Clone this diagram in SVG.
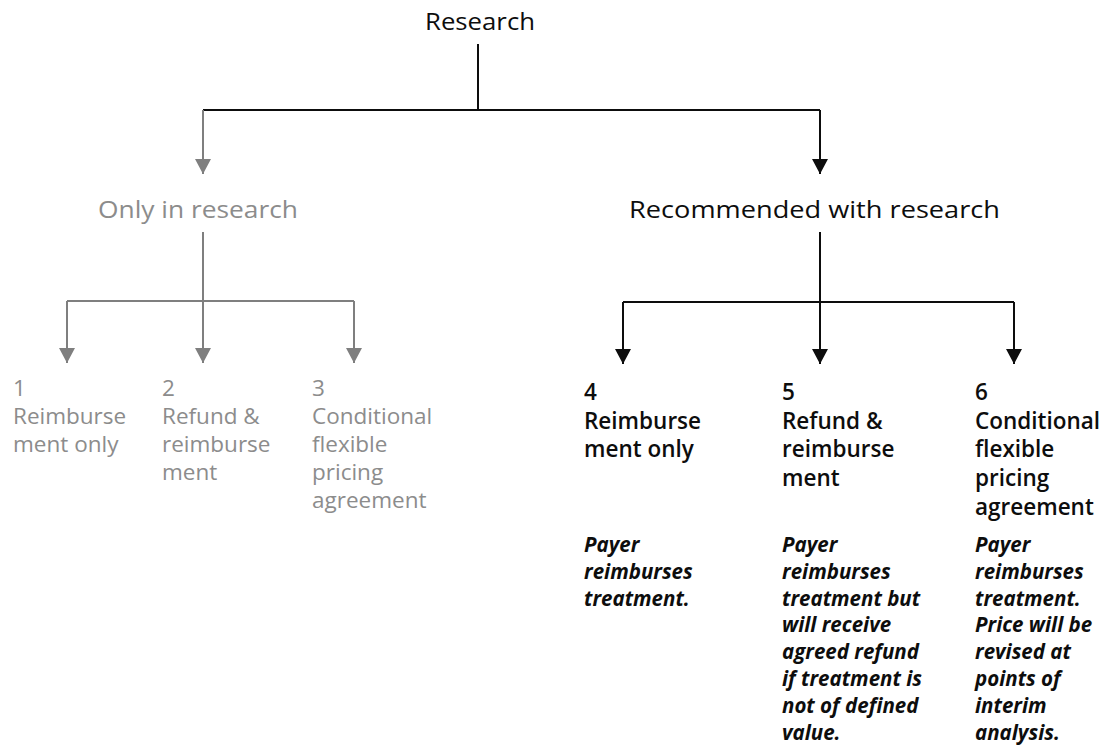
<svg xmlns="http://www.w3.org/2000/svg" width="1105" height="749" viewBox="0 0 1105 749">
<style>
text{font-family:"Open Sans","Liberation Sans",sans-serif;}
.h{font-size:24px;fill:#0d0d0d;}
.hg{font-size:24px;fill:#8c8c8c;}
.g{font-size:22.5px;fill:#8c8c8c;}
.b{font-size:22.5px;fill:#0d0d0d;font-weight:600;}
.d{font-size:20.5px;fill:#0d0d0d;font-weight:700;font-style:italic;}
.lk{stroke:#0d0d0d;stroke-width:2;fill:none;}
.lg{stroke:#7f7f7f;stroke-width:2;fill:none;}
</style>
<defs>
<marker id="ak" markerUnits="userSpaceOnUse" markerWidth="16" markerHeight="16" refX="15" refY="8" orient="auto"><path d="M0,0 L15,8 L0,16 z" fill="#0d0d0d"/></marker>
<marker id="ag" markerUnits="userSpaceOnUse" markerWidth="16" markerHeight="16" refX="15" refY="8" orient="auto"><path d="M0,0 L15,8 L0,16 z" fill="#7f7f7f"/></marker>
</defs>
<g id="connectors">
<path class="lk" d="M478,44 V110 M203,110 H820"/>
<path class="lg" d="M203,110 V174" marker-end="url(#ag)"/>
<path class="lk" d="M820,110 V174" marker-end="url(#ak)"/>
<path class="lg" d="M203,232 V301 M67,301 H354"/>
<path class="lg" d="M67,301 V363" marker-end="url(#ag)"/>
<path class="lg" d="M203,301 V363" marker-end="url(#ag)"/>
<path class="lg" d="M354,301 V363" marker-end="url(#ag)"/>
<path class="lk" d="M820,232 V302 M623,302 H1014"/>
<path class="lk" d="M623,302 V364" marker-end="url(#ak)"/>
<path class="lk" d="M820,302 V364" marker-end="url(#ak)"/>
<path class="lk" d="M1014,302 V364" marker-end="url(#ak)"/>
</g>
<g id="research"><text class="h" x="425" y="30" textLength="110" lengthAdjust="spacingAndGlyphs">Research</text></g>
<g id="only"><text class="hg" x="98" y="218" textLength="200" lengthAdjust="spacingAndGlyphs">Only in research</text></g>
<g id="recommended"><text class="h" x="629" y="218" textLength="371" lengthAdjust="spacingAndGlyphs">Recommended with research</text></g>
<g id="n1"><text class="g" x="13" y="396"><tspan x="13">1</tspan><tspan x="13" dy="28">Reimburse</tspan><tspan x="13" dy="28">ment only</tspan></text></g>
<g id="n2"><text class="g" x="162" y="396"><tspan x="162">2</tspan><tspan x="162" dy="28">Refund &amp;</tspan><tspan x="162" dy="28">reimburse</tspan><tspan x="162" dy="28">ment</tspan></text></g>
<g id="n3"><text class="g" x="312" y="396"><tspan x="312">3</tspan><tspan x="312" dy="28">Conditional</tspan><tspan x="312" dy="28">flexible</tspan><tspan x="312" dy="28">pricing</tspan><tspan x="312" dy="28">agreement</tspan></text></g>
<g id="n4"><text class="b" x="584" y="400"><tspan x="584">4</tspan><tspan x="584" dy="28.7">Reimburse</tspan><tspan x="584" dy="28.7">ment only</tspan></text>
<text class="d" x="584" y="552"><tspan x="584">Payer</tspan><tspan x="584" dy="26.8">reimburses</tspan><tspan x="584" dy="26.8">treatment.</tspan></text></g>
<g id="n5"><text class="b" x="782" y="400"><tspan x="782">5</tspan><tspan x="782" dy="28.7">Refund &amp;</tspan><tspan x="782" dy="28.7">reimburse</tspan><tspan x="782" dy="28.7">ment</tspan></text>
<text class="d" x="782" y="552"><tspan x="782">Payer</tspan><tspan x="782" dy="26.8">reimburses</tspan><tspan x="782" dy="26.8">treatment but</tspan><tspan x="782" dy="26.8">will receive</tspan><tspan x="782" dy="26.8">agreed refund</tspan><tspan x="782" dy="26.8">if treatment is</tspan><tspan x="782" dy="26.8">not of defined</tspan><tspan x="782" dy="26.8">value.</tspan></text></g>
<g id="n6"><text class="b" x="975" y="400"><tspan x="975">6</tspan><tspan x="975" dy="28.7">Conditional</tspan><tspan x="975" dy="28.7">flexible</tspan><tspan x="975" dy="28.7">pricing</tspan><tspan x="975" dy="28.7">agreement</tspan></text>
<text class="d" x="975" y="552"><tspan x="975">Payer</tspan><tspan x="975" dy="26.8">reimburses</tspan><tspan x="975" dy="26.8">treatment.</tspan><tspan x="975" dy="26.8">Price will be</tspan><tspan x="975" dy="26.8">revised at</tspan><tspan x="975" dy="26.8">points of</tspan><tspan x="975" dy="26.8">interim</tspan><tspan x="975" dy="26.8">analysis.</tspan></text></g>
</svg>
